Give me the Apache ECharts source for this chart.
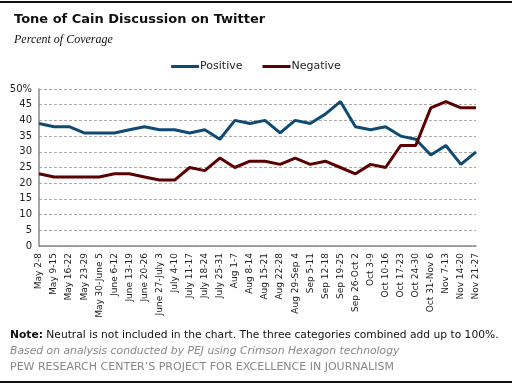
<!DOCTYPE html>
<html><head><meta charset="utf-8">
<script src="https://cdn.jsdelivr.net/npm/echarts@6/dist/echarts.min.js"></script>
<style>html,body{margin:0;padding:0;background:#fff}#c{width:512px;height:385px}</style>
</head><body><div id="c"></div>
<script>
var categories = ["May 2-8","May 9-15","May 16-22","May 23-29","May 30-June 5","June 6-12","June 13-19","June 20-26","June 27-July 3","July 4-10","July 11-17","July 18-24","July 25-31","Aug 1-7","Aug 8-14","Aug 15-21","Aug 22-28","Aug 29-Sep 4","Sep 5-11","Sep 12-18","Sep 19-25","Sep 26-Oct 2","Oct 3-9","Oct 10-16","Oct 17-23","Oct 24-30","Oct 31-Nov 6","Nov 7-13","Nov 14-20","Nov 21-27"];
var positive = [39,38,38,36,36,36,37,38,37,37,36,37,34,40,39,40,36,40,39,42,46,38,37,38,35,34,29,32,26,30];
var negative = [23,22,22,22,22,23,23,22,21,21,25,24,28,25,27,27,26,28,26,27,25,23,26,25,32,32,44,46,44,44];
var yTicks = [0,5,10,15,20,25,30,35,40,45,50];

var chart = echarts.init(document.getElementById('c'));
var font = 'DejaVu Sans, Verdana, sans-serif';
chart.setOption({
  animation: false,
  title: [
    {text: 'Tone of Cain Discussion on Twitter', left: 9, top: 8, textStyle: {fontFamily: font, fontWeight: 'bold', fontSize: 13, color: '#111'}},
    {text: 'Percent of Coverage', left: 9, top: 29, textStyle: {fontFamily: 'Liberation Serif, serif', fontStyle: 'italic', fontWeight: 'normal', fontSize: 12, color: '#111'}}
  ],
  legend: {
    top: 56, left: 'center', itemWidth: 28, itemHeight: 3, itemGap: 20,
    icon: 'rect',
    textStyle: {fontFamily: font, fontSize: 11, color: '#222', padding: [0,0,0,-4]},
    data: ['Positive', 'Negative']
  },
  grid: {left: 39, right: 36, top: 89, bottom: 139, containLabel: false},
  xAxis: {
    type: 'category', data: categories, boundaryGap: false,
    axisLine: {lineStyle: {color: '#888', width: 1.5}},
    axisTick: {show: false},
    axisLabel: {interval: 0, rotate: 90, fontFamily: font, fontSize: 9, color: '#222', margin: 7}
  },
  yAxis: {
    type: 'value', min: 0, max: 50, interval: 5,
    axisLine: {show: true, lineStyle: {color: '#888', width: 1.5}},
    axisTick: {show: false},
    splitLine: {lineStyle: {color: '#aaa', type: [3, 2], width: 1}},
    axisLabel: {fontFamily: font, fontSize: 10, color: '#222', margin: 7,
      formatter: function (v) { return v === 50 ? '50%' : String(v); }}
  },
  series: [
    {name: 'Positive', type: 'line', data: positive, symbol: 'none', lineStyle: {color: '#0f4a72', width: 3}, itemStyle: {color: '#0f4a72'}},
    {name: 'Negative', type: 'line', data: negative, symbol: 'none', lineStyle: {color: '#5a0000', width: 3}, itemStyle: {color: '#5a0000'}}
  ],
  graphic: [
    {type: 'rect', shape: {x: 0, y: 1, width: 512, height: 2}, style: {fill: '#111'}},
    {type: 'rect', shape: {x: 0, y: 381, width: 512, height: 2}, style: {fill: '#111'}},
    {type: 'text', left: 10, top: 330, style: {text: '{b|Note:} Neutral is not included in the chart. The three categories combined add up to 100%.', rich: {b: {fontWeight: 'bold', fontFamily: font, fontSize: 10.7, fill: '#111'}}, fontFamily: font, fontSize: 10.7, fill: '#111'}},
    {type: 'text', left: 10, top: 346, style: {text: 'Based on analysis conducted by PEJ using Crimson Hexagon technology', fontFamily: font, fontStyle: 'italic', fontSize: 10.8, fill: '#888'}},
    {type: 'text', left: 10, top: 362, style: {text: 'PEW RESEARCH CENTER\u2019S PROJECT FOR EXCELLENCE IN JOURNALISM', fontFamily: font, fontSize: 11, fill: '#888'}}
  ]
});
</script></body></html>
